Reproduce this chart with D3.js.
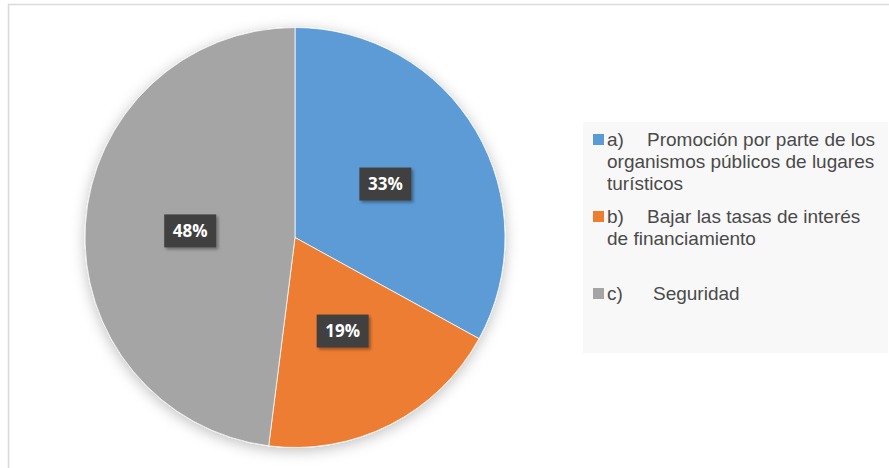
<!DOCTYPE html>
<html>
<head>
<meta charset="utf-8">
<script src="https://cdn.jsdelivr.net/npm/d3@7"></script>
<style>
  body { margin: 0; background: #fff; }
  svg { display: block; }
</style>
</head>
<body>
<div id="container"></div>
<script>
// Chart size
const width = 889;
const height = 468;

// Data
const labels = ['a)', 'b)', 'c)'];
const legendLines = [
    ['Promoción por parte de los', 'organismos públicos de lugares', 'turísticos'],
    ['Bajar las tasas de interés', 'de financiamiento'],
    ['Seguridad']
];
const values = [33, 19, 48];
const colors = ['#5B9BD5', '#ED7D31', '#A5A5A5'];

const cx = 295, cy = 237.5, radius = 210;

const svg = d3.select('#container')
    .append('svg')
    .attr('width', width)
    .attr('height', height);

// Filters for the soft shadows
const defs = svg.append('defs');
const pieShadow = defs.append('filter')
    .attr('id', 'pieShadow')
    .attr('x', '-20%').attr('y', '-20%')
    .attr('width', '140%').attr('height', '140%');
pieShadow.append('feDropShadow')
    .attr('dx', 0).attr('dy', 3)
    .attr('stdDeviation', 7)
    .attr('flood-color', '#000')
    .attr('flood-opacity', 0.25);

const boxShadow = defs.append('filter')
    .attr('id', 'boxShadow')
    .attr('x', '-30%').attr('y', '-30%')
    .attr('width', '160%').attr('height', '160%');
boxShadow.append('feDropShadow')
    .attr('dx', 2).attr('dy', 2)
    .attr('stdDeviation', 1.5)
    .attr('flood-color', '#000')
    .attr('flood-opacity', 0.35);

// Outer chart frame
svg.append('rect')
    .attr('x', 8.5).attr('y', 4.5)
    .attr('width', width + 10).attr('height', height + 10)
    .attr('fill', 'none')
    .attr('stroke', '#d9d9d9')
    .attr('stroke-width', 1.5);

// Pie layout: first slice starts at 12 o'clock, clockwise, keep data order
const pie = d3.pie().sort(null).value(d => d);
const arcs = pie(values);
const arc = d3.arc().innerRadius(0).outerRadius(radius);
const labelArc = d3.arc().innerRadius(radius / 2).outerRadius(radius / 2);

const g = svg.append('g')
    .attr('transform', `translate(${cx},${cy})`);

g.append('g')
    .attr('filter', 'url(#pieShadow)')
    .selectAll('path')
    .data(arcs)
    .enter().append('path')
    .attr('d', arc)
    .attr('fill', (d, i) => colors[i])
    .attr('stroke', '#fff')
    .attr('stroke-width', 0.75);

// Percentage labels in dark boxes
const lbl = g.selectAll('.lbl')
    .data(arcs)
    .enter().append('g')
    .attr('class', 'lbl')
    .attr('transform', d => `translate(${labelArc.centroid(d)})`);

lbl.append('rect')
    .attr('x', -26).attr('y', -16.5)
    .attr('width', 52).attr('height', 33)
    .attr('fill', '#404040')
    .attr('filter', 'url(#boxShadow)');

lbl.append('text')
    .attr('text-anchor', 'middle')
    .attr('dy', '0.36em')
    .attr('fill', '#fff')
    .style('font-family', '"Open Sans", "Liberation Sans", sans-serif')
    .style('font-weight', 'bold')
    .style('font-size', '17px')
    .text(d => d.data + '%');

// Legend
svg.append('rect')
    .attr('x', 583).attr('y', 122)
    .attr('width', 305).attr('height', 231)
    .attr('fill', '#f8f8f8');

const legendBase = [146, 223, 300];
const lineH = 22;
const textX = [647, 647, 653];

const leg = svg.selectAll('.leg')
    .data(labels)
    .enter().append('g')
    .attr('class', 'leg')
    .attr('transform', (d, i) => `translate(0,${legendBase[i]})`);

leg.append('rect')
    .attr('x', 593).attr('y', -12)
    .attr('width', 11).attr('height', 11)
    .attr('fill', (d, i) => colors[i]);

leg.each(function (d, i) {
    const t = d3.select(this).append('text')
        .attr('fill', '#4a4a4a')
        .style('font-family', '"Liberation Sans", Arial, sans-serif')
        .style('font-size', '19px');
    t.append('tspan').attr('x', 607).attr('y', 0).text(d);
    legendLines[i].forEach((line, j) => {
        t.append('tspan')
            .attr('x', j === 0 ? textX[i] : 607)
            .attr('y', j * lineH)
            .text(line);
    });
});
</script>
</body>
</html>
